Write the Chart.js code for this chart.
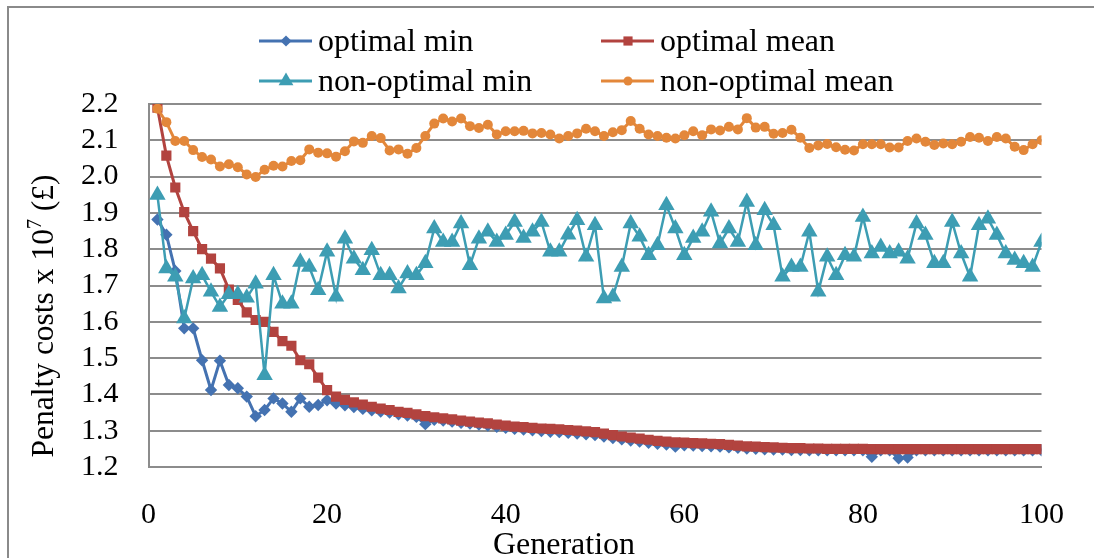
<!DOCTYPE html>
<html>
<head>
<meta charset="utf-8">
<script src="https://cdn.jsdelivr.net/npm/chart.js@4.4.1/dist/chart.umd.min.js"></script>
<style>
  html, body { margin: 0; padding: 0; background: #ffffff; }
  #wrap { width: 1094px; height: 558px; position: relative; }
</style>
</head>
<body>
<div id="wrap"><canvas id="chart" width="1094" height="558"></canvas></div>
<script>
// Penalty cost per generation (x 10^7 £)
const seriesNames = ['optimal min', 'optimal mean', 'non-optimal min', 'non-optimal mean'];

const optimalMin = [
  1.882, 1.840, 1.740, 1.582, 1.582, 1.494, 1.412, 1.493, 1.426, 1.417,
  1.394, 1.340, 1.357, 1.389, 1.375, 1.352, 1.389, 1.366, 1.371, 1.384,
  1.375, 1.370, 1.365, 1.360, 1.356, 1.353, 1.350, 1.345, 1.342, 1.338,
  1.318, 1.330, 1.328, 1.325, 1.322, 1.320, 1.317, 1.314, 1.311, 1.308,
  1.305, 1.303, 1.301, 1.299, 1.297, 1.296, 1.294, 1.292, 1.290, 1.288,
  1.284, 1.280, 1.276, 1.273, 1.270, 1.267, 1.264, 1.262, 1.256, 1.260,
  1.259, 1.258, 1.257, 1.256, 1.254, 1.253, 1.251, 1.250, 1.249, 1.248,
  1.248, 1.247, 1.247, 1.246, 1.246, 1.246, 1.246, 1.246, 1.246, 1.246,
  1.228, 1.246, 1.246, 1.224, 1.226, 1.246, 1.246, 1.246, 1.246, 1.246,
  1.246, 1.246, 1.246, 1.246, 1.246, 1.246, 1.246, 1.246, 1.246, 1.246
];

const optimalMean = [
  2.190, 2.058, 1.970, 1.902, 1.850, 1.800, 1.774, 1.747, 1.689, 1.660,
  1.626, 1.605, 1.600, 1.572, 1.547, 1.534, 1.494, 1.483, 1.446, 1.412,
  1.394, 1.385, 1.378, 1.372, 1.366, 1.361, 1.357, 1.352, 1.349, 1.345,
  1.340, 1.337, 1.334, 1.331, 1.328, 1.325, 1.322, 1.320, 1.317, 1.314,
  1.311, 1.310, 1.308, 1.306, 1.305, 1.304, 1.302, 1.300, 1.298, 1.296,
  1.292, 1.288, 1.284, 1.281, 1.278, 1.275, 1.272, 1.270, 1.268, 1.267,
  1.266, 1.265, 1.264, 1.263, 1.261, 1.259, 1.257, 1.256, 1.255, 1.254,
  1.253, 1.252, 1.252, 1.251, 1.251, 1.250, 1.250, 1.250, 1.250, 1.250,
  1.249, 1.249, 1.249, 1.249, 1.249, 1.249, 1.249, 1.249, 1.249, 1.249,
  1.249, 1.249, 1.249, 1.249, 1.249, 1.249, 1.249, 1.249, 1.249, 1.249
];

const nonOptimalMin = [
  1.949, 1.747, 1.724, 1.609, 1.719, 1.728, 1.683, 1.641, 1.676, 1.676,
  1.666, 1.705, 1.453, 1.728, 1.650, 1.650, 1.765, 1.751, 1.687, 1.793,
  1.669, 1.829, 1.774, 1.742, 1.797, 1.728, 1.728, 1.692, 1.733, 1.728,
  1.761, 1.857, 1.820, 1.820, 1.871, 1.756, 1.829, 1.848, 1.820, 1.839,
  1.875, 1.831, 1.848, 1.875, 1.793, 1.793, 1.840, 1.880, 1.779, 1.866,
  1.664, 1.669, 1.751, 1.871, 1.834, 1.783, 1.811, 1.921, 1.857, 1.783,
  1.831, 1.848, 1.903, 1.816, 1.857, 1.820, 1.930, 1.811, 1.907, 1.866,
  1.724, 1.751, 1.751, 1.848, 1.683, 1.779, 1.728, 1.783, 1.779, 1.889,
  1.788, 1.806, 1.788, 1.793, 1.774, 1.871, 1.839, 1.761, 1.761, 1.875,
  1.788, 1.724, 1.866, 1.884, 1.839, 1.788, 1.770, 1.761, 1.751, 1.820
];

const nonOptimalMean = [
  2.187, 2.150, 2.098, 2.098, 2.073, 2.054, 2.047, 2.028, 2.034, 2.026,
  2.006, 1.999, 2.019, 2.030, 2.028, 2.043, 2.045, 2.075, 2.066, 2.064,
  2.055, 2.070, 2.097, 2.093, 2.112, 2.106, 2.072, 2.075, 2.063, 2.079,
  2.112, 2.146, 2.160, 2.152, 2.160, 2.139, 2.134, 2.143, 2.116, 2.125,
  2.125, 2.126, 2.119, 2.120, 2.116, 2.105, 2.112, 2.119, 2.132, 2.125,
  2.112, 2.122, 2.128, 2.153, 2.132, 2.116, 2.112, 2.107, 2.105, 2.114,
  2.125, 2.114, 2.130, 2.127, 2.137, 2.130, 2.161, 2.135, 2.137, 2.118,
  2.120, 2.129, 2.107, 2.079, 2.086, 2.090, 2.081, 2.074, 2.072, 2.089,
  2.089, 2.089, 2.080, 2.080, 2.098, 2.105, 2.096, 2.087, 2.091, 2.089,
  2.096, 2.109, 2.107, 2.098, 2.109, 2.105, 2.082, 2.073, 2.089, 2.100
];

// Generation numbers run 1..100, one per recorded value
const generations = optimalMin.map((_, i) => i + 1);

const xTicks = [0, 20, 40, 60, 80, 100];
const yTicks = [1.2, 1.3, 1.4, 1.5, 1.6, 1.7, 1.8, 1.9, 2.0, 2.1, 2.2];

const SERIF = "'Liberation Serif', 'Times New Roman', serif";
const GRID = '#8c8c8c';

const styles = [
  { color: '#4472b1', pointStyle: 'rectRot', radius: 6.2, lineWidth: 3 },
  { color: '#b2433f', pointStyle: 'rect', radius: 7.2, lineWidth: 3 },
  { color: '#3d9db3', pointStyle: 'triangle', radius: 9.5, lineWidth: 2.5 },
  { color: '#e3873a', pointStyle: 'circle', radius: 5, lineWidth: 3 }
];

const values = [optimalMin, optimalMean, nonOptimalMin, nonOptimalMean];

const datasets = values.map((vals, k) => ({
  label: seriesNames[k],
  data: vals.map((v, i) => ({ x: generations[i], y: v })),
  borderColor: styles[k].color,
  backgroundColor: styles[k].color,
  borderWidth: styles[k].lineWidth,
  pointStyle: styles[k].pointStyle,
  pointRadius: styles[k].radius,
  pointBorderWidth: 0,
  pointBackgroundColor: styles[k].color,
  tension: 0,
  order: 4 - k
}));

// Frame round the chart, legend and axis titles
const decorations = {
  id: 'decorations',
  beforeDraw(chart) {
    const ctx = chart.ctx;
    ctx.save();
    ctx.fillStyle = '#ffffff';
    ctx.fillRect(0, 0, chart.width, chart.height);
    ctx.strokeStyle = '#8a8a8a';
    ctx.lineWidth = 2;
    ctx.strokeRect(8, 7, chart.width + 20, chart.height + 20);
    ctx.restore();
  },
  afterDraw(chart) {
    const ctx = chart.ctx;
    ctx.save();

    // legend: two rows of two entries
    const slots = [
      { x0: 259, y: 41 }, { x0: 601, y: 41 },
      { x0: 259, y: 81 }, { x0: 601, y: 81 }
    ];
    ctx.font = '32px ' + SERIF;
    ctx.textBaseline = 'middle';
    ctx.textAlign = 'left';
    slots.forEach((s, k) => {
      const st = styles[k];
      ctx.strokeStyle = st.color;
      ctx.lineWidth = 3;
      ctx.beginPath();
      ctx.moveTo(s.x0, s.y);
      ctx.lineTo(s.x0 + 53, s.y);
      ctx.stroke();
      ctx.fillStyle = st.color;
      Chart.helpers.drawPoint(ctx, {
        pointStyle: st.pointStyle, radius: st.radius * 0.9, rotation: 0, borderWidth: 0
      }, s.x0 + 27, s.y);
      ctx.fillStyle = '#000000';
      ctx.fillText(seriesNames[k], s.x0 + 59, s.y + 2);
    });

    // y axis title with superscript exponent
    const partA = 'Penalty costs x 10';
    const partB = '7';
    const partC = ' (£)';
    const big = '31.5px ' + SERIF;
    const small = '20px ' + SERIF;
    ctx.font = big;
    const wA = ctx.measureText(partA).width;
    const wC = ctx.measureText(partC).width;
    ctx.font = small;
    const wB = ctx.measureText(partB).width;
    const total = wA + wB + wC;
    ctx.translate(53, 316);
    ctx.rotate(-Math.PI / 2);
    ctx.fillStyle = '#000000';
    ctx.textBaseline = 'alphabetic';
    let cx = -total / 2;
    ctx.font = big;
    ctx.fillText(partA, cx, 0);
    cx += wA;
    ctx.font = small;
    ctx.fillText(partB, cx, -12);
    cx += wB;
    ctx.font = big;
    ctx.fillText(partC, cx, 0);
    ctx.setTransform(1, 0, 0, 1, 0, 0);

    // x axis title
    ctx.font = '32px ' + SERIF;
    ctx.textAlign = 'center';
    ctx.textBaseline = 'alphabetic';
    ctx.fillText('Generation', 564, 554);
    ctx.restore();
  }
};

new Chart(document.getElementById('chart'), {
  type: 'line',
  data: { datasets },
  options: {
    responsive: false,
    animation: false,
    layout: { padding: { left: 0, right: 50, top: 104, bottom: 0 } },
    plugins: {
      legend: { display: false },
      title: { display: false },
      tooltip: { enabled: false }
    },
    scales: {
      x: {
        type: 'linear',
        min: xTicks[0],
        max: xTicks[xTicks.length - 1],
        afterBuildTicks(axis) { axis.ticks = xTicks.map(v => ({ value: v })); },
        afterFit(axis) { axis.height = 91; },
        grid: { display: false, drawTicks: false },
        border: { display: true, color: GRID, width: 2 },
        ticks: {
          padding: 30,
          autoSkip: false,
          color: '#000000',
          font: { family: SERIF, size: 30 },
          maxRotation: 0
        }
      },
      y: {
        type: 'linear',
        min: yTicks[0],
        max: yTicks[yTicks.length - 1],
        afterBuildTicks(axis) { axis.ticks = yTicks.map(v => ({ value: v })); },
        afterFit(axis) { axis.width = 148.5; },
        grid: { color: GRID, lineWidth: 2, drawTicks: false },
        border: { display: true, color: GRID, width: 2 },
        ticks: {
          padding: 30,
          autoSkip: false,
          color: '#000000',
          font: { family: SERIF, size: 30 },
          callback: v => Number(v).toFixed(1)
        }
      }
    }
  },
  plugins: [decorations]
});
</script>
</body>
</html>
